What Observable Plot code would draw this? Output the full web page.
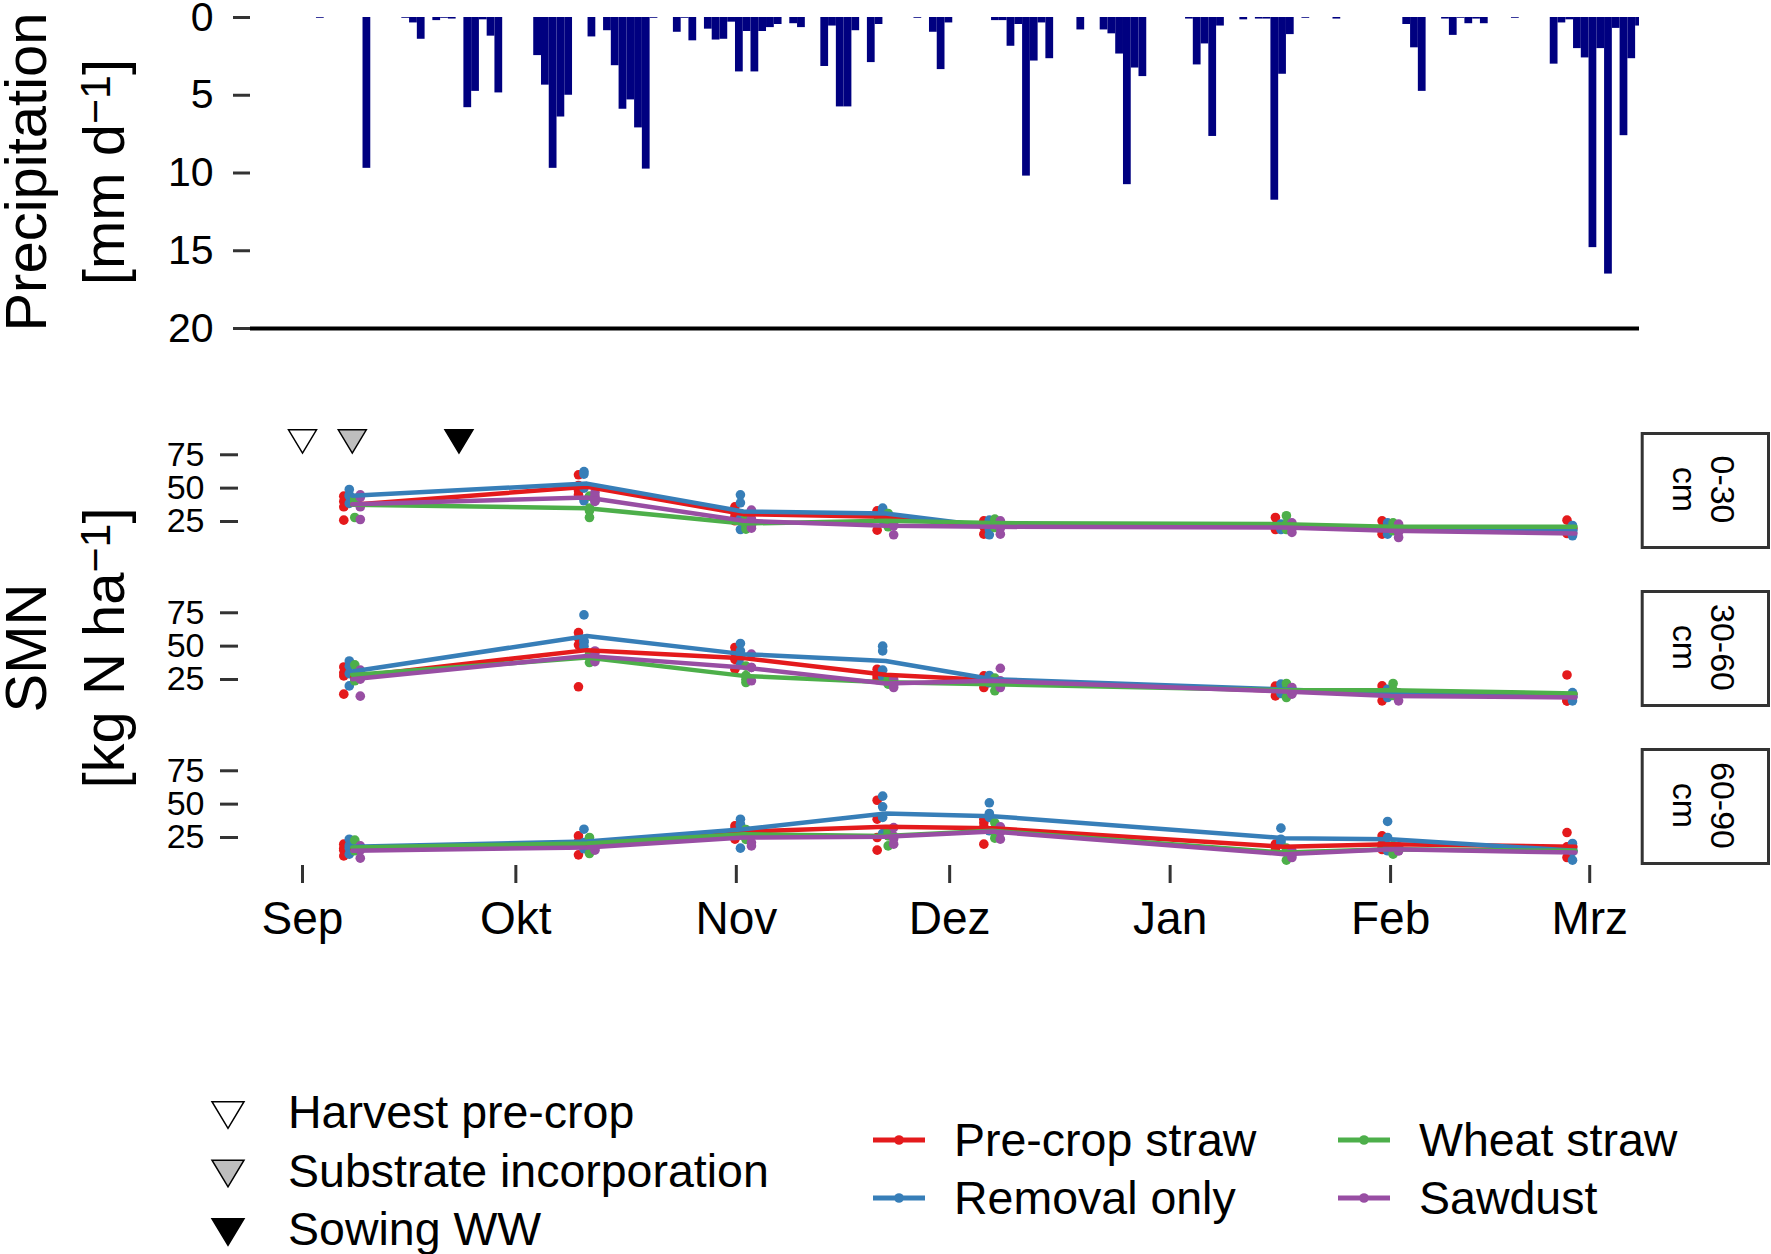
<!DOCTYPE html>
<html>
<head>
<meta charset="utf-8">
<script src="https://cdn.jsdelivr.net/npm/d3@7"></script>
<script src="https://cdn.jsdelivr.net/npm/@observablehq/plot@0.6"></script>
<style>
html, body { margin: 0; padding: 0; background: #fff; overflow: hidden; }
#root { position: relative; width: 1771px; height: 1254px; overflow: hidden; background: #fff;
  font-family: "Liberation Sans", Arial, Helvetica, sans-serif; }
#root > svg { position: absolute; left: 0; }
</style>
</head>
<body>
<div id="root"></div>
<script>
// ---------------- DATA ----------------
// Daily precipitation [mm d-1], one value per day starting at precipStartDate
const precipStartDate = "2018-09-01";
const precipMM = [
  0,0,0,0,0,0,0,0,0,0.05,
  0,0,0,0,0,9.7,0,0,0,0,
  0.05,0.35,1.4,0,0.2,0.05,0.1,0,5.8,4.75,
  0.15,1.2,4.85,0,0,0,0,2.45,4.35,9.7,
  6.4,5.0,0,0,1.25,0,0.85,3.1,5.9,5.3,
  7.1,9.75,0.05,0,0,0.95,0.05,1.5,0,0.75,
  1.45,1.4,0.3,3.5,0.9,3.5,0.9,0.65,0.45,0,
  0.4,0.65,0,0,3.15,0.55,5.75,5.75,0.85,0,
  2.9,0.45,0,0,0,0,0.05,0,0.95,3.35,
  0.35,0,0,0,0,0,0.2,0.2,1.85,0.45,
  10.2,2.8,0.35,2.65,0,0,0,0.8,0,0,
  0.8,1.05,2.35,10.75,3.25,3.8,0,0,0,0,
  0,0.1,3.05,1.7,7.65,0.55,0,0,0.15,0,
  0.1,0.1,11.75,3.65,1.1,0,0.05,0,0,0,
  0.1,0,0,0,0,0,0,0,0,0.45,
  1.95,4.75,0,0,0.1,1.15,0.05,0.4,0.1,0.4,
  0,0,0,0.05,0,0,0,0,3.0,0.35,
  0.15,2.0,2.6,14.8,2.0,16.5,0.7,7.6,2.65,0.55
];
const precipTicks = [0, 5, 10, 15, 20];

const monthTickDates = ["2018-09-01","2018-10-01","2018-11-01","2018-12-01","2019-01-01","2019-02-01","2019-03-01"];
const monthTickLabels = ["Sep","Okt","Nov","Dez","Jan","Feb","Mrz"];
const smnTicks = [25, 50, 75];

const depths = ["0-30", "30-60", "60-90"];
const treatments = ["Pre-crop straw", "Removal only", "Wheat straw", "Sawdust"];
const treatmentColors = ["#E41A1C", "#377EB8", "#4DAF4A", "#984EA3"];
const samplingDates = ["2018-09-08","2018-10-11","2018-11-02","2018-11-22","2018-12-07","2019-01-17","2019-02-01","2019-02-27"];

// Treatment means (rows: treatments, columns: sampling dates)
const smnMean0to30 = [
  [37.5, 51, 30.5, 28.5, 21, 22.5, 19.3, 19.8],
  [44.2, 53.4, 32.5, 31, 21, 21, 19.3, 18.5],
  [37.5, 35, 23.5, 25.5, 23.8, 23, 21, 21],
  [38, 43, 25.5, 21.8, 21, 20.5, 18, 16]
];
const smnMean30to60 = [
  [27, 47, 41, 28.5, 24.5, 16.5, 14.5, 14],
  [31, 57.6, 44, 38.9, 25.2, 17.5, 14.5, 12.5],
  [28.4, 41.4, 27.7, 23, 21.5, 17, 17, 14.5],
  [25.2, 42.7, 34, 22, 24, 16, 12.7, 11.5]
];
const smnMean60to90 = [
  [16.2, 20, 29.4, 33, 32, 18, 20, 18],
  [18, 22, 31.2, 43, 41, 24.5, 23.7, 15],
  [17.5, 20.5, 27.4, 26.2, 30, 13.7, 16.2, 15],
  [15, 17.5, 25, 25.5, 29.4, 12.5, 16.2, 13.7]
];

// Replicate values (rows: treatments, then sampling dates)
const smnPoints0to30 = [
  [[44,40,36,26],[60,52,48,45],[36,32,29,25.5],[33,31.8,30,18.5],[25.5,23,21,15.5],[28,22,21,19],[25.5,19,18,15.5],[26,19,18,16]],
  [[49,45,44,38.5],[62.4,60.5,50,40.5],[45,39,27,19],[35,33,30,26],[26,24,19,15],[23,22,20,19],[24,20,18,15.5],[22,20.5,17,14.3]],
  [[42,40,40,28],[44,35,33,28],[28,25,22,19.3],[31,26,24,21],[26.8,25,23,20.5],[29.3,23,21,19],[24,22,20,18],[]],
  [[45,43,36,26.5],[46.7,44,40.5,40],[33.5,27,22,20],[26,24,21.8,15],[25.5,23,20,15.5],[24,21,20,16.8],[23,19,17,13],[]]
];
const smnPoints30to60 = [
  [[34.4,30,27.7,14],[60.1,56,51,19.5],[49,45,40,32.7],[32.7,29,27,25],[27.7,26,25,19],[20,16.5,17,12.7],[20.2,15,14,9],[28.4,11,9,9]],
  [[38.9,35,29.4,20.2],[73.4,54,53,50],[52,46.4,42,36],[50,46.4,32,27],[28,26.4,24,22.5],[21.5,18,16,14.5],[17.7,15,14,11.5],[15.2,14,12,9]],
  [[36,28,26,24],[44,42,42,37.7],[35,28,25,22.7],[25,23,22.5,21.5],[26,22,21.5,16.5],[22,18,16.5,11.5],[22,17,16,13],[]],
  [[32,31,25.2,12.5],[46.4,45,41,38.4],[44,34,34,24],[25,23,21,19],[33.4,24,20,19],[19,16,15,14],[15,14,13,9],[]]
];
const smnPoints60to90 = [
  [[20,17,15.5,11.2],[26.2,22,20,12],[33.7,31,29,23.7],[52.9,38.7,25,15.5],[38.7,36,33,20],[20,18.7,18,15.5],[26.2,20,18,16],[28.7,18,15,10]],
  [[23.7,19,17,12.5],[31.2,21.2,19,16.5],[38.7,35,34,17],[56,48,40,28],[51,43,40,30],[32,23.7,22,20.3],[37,25,18,15],[20.5,17,14.5,8]],
  [[23,16.2,16,15],[25,23,21.2,13],[31,28,27,23.6],[30,28,26.2,18.7],[36,31,28.5,24.5],[17,15,14.7,8],[19,17,16.3,12.5],[]],
  [[18.7,16,15.5,9.5],[19,18,17.5,15.5],[29,28,21.2,18.7],[32.4,26,24,20],[33,32,29,23.7],[15,13,12,10],[18,17,15,15],[]]
];

// Management events shown as triangles in the top panel
const eventLabels = ["Harvest pre-crop", "Substrate incorporation", "Sowing WW"];
const eventDates = ["2018-09-01", "2018-09-08", "2018-09-23"];
const eventFills = ["#FFFFFF", "#BEBEBE", "#000000"];
const eventLevel = 85;

// ---------------- HELPERS ----------------
const FONT = '"Liberation Sans", Arial, Helvetica, sans-serif';
const parse = d3.utcParse("%Y-%m-%d");
const root = document.getElementById("root");
const W = 1771;

const triangleDown = {
  draw(context, size) {
    const r = Math.sqrt(size / Math.PI);
    const h = r * 0.83;
    context.moveTo(-r, -h);
    context.lineTo(r, -h);
    context.lineTo(0, h);
    context.closePath();
  }
};

function place(svg, top) {
  svg.style.position = "absolute";
  svg.style.left = "0px";
  svg.style.top = top + "px";
  root.appendChild(svg);
}

const baseStyle = { fontFamily: FONT, background: "transparent", overflow: "visible", maxWidth: "none", color: "black" };

// ---------------- PRECIPITATION ----------------
const precipStart = parse(precipStartDate);
const precipRows = precipMM
  .map((mm, i) => ({ date: d3.utcDay.offset(precipStart, i), mm }))
  .filter(d => d.mm > 0);

const precipPlot = Plot.plot({
  width: W, height: 348,
  marginLeft: 250, marginRight: 132, marginTop: 17, marginBottom: 20,
  style: baseStyle,
  x: { type: "utc", domain: [precipStart, d3.utcDay.offset(precipStart, precipMM.length - 1)], axis: null },
  y: { domain: [0, 20], reverse: true, axis: null },
  marks: [
    Plot.rect(precipRows, {
      x1: d => d3.utcHour.offset(d.date, -12),
      x2: d => d3.utcHour.offset(d.date, 12),
      y1: 0, y2: "mm", fill: "#000080", clip: true
    }),
    Plot.ruleY([20], { stroke: "black", strokeWidth: 4 }),
    Plot.axisY(precipTicks, { anchor: "left", tickSize: 17, tickPadding: 20, fontSize: 41,
      stroke: "#333", strokeWidth: 3, fill: "black", label: null })
  ]
});
place(precipPlot, 0);

// ---------------- SMN PANELS ----------------
const smnMeans = [smnMean0to30, smnMean30to60, smnMean60to90];
const smnPoints = [smnPoints0to30, smnPoints30to60, smnPoints60to90];
const dodgePx = [-8.5, -3, 2.5, 8];
const panelTops = [432, 590, 748];
const panelH = 117;
const smnXDomain = [parse("2018-08-23"), parse("2019-03-08")];
const monthDates = monthTickDates.map(parse);
const monthLabelByTime = new Map(monthDates.map((d, i) => [+d, monthTickLabels[i]]));

depths.forEach((depth, di) => {
  const isFirst = di === 0, isLast = di === depths.length - 1;
  const mt = 20, mb = isLast ? 80 : 20;
  const marks = [
    Plot.axisY(smnTicks, { anchor: "left", tickSize: 18, tickPadding: 16, fontSize: 34,
      stroke: "#333", strokeWidth: 3, fill: "black", label: null })
  ];
  if (isLast) {
    marks.push(Plot.axisX(monthDates, { anchor: "bottom", tickSize: 18, tickPadding: 18, fontSize: 46,
      stroke: "#333", strokeWidth: 3, fill: "black", label: null,
      tickFormat: d => monthLabelByTime.get(+d) }));
  }
  treatments.forEach((t, ti) => {
    const rows = [];
    samplingDates.forEach((s, si) => {
      smnPoints[di][ti][si].forEach(v => rows.push({ date: parse(s), value: v }));
    });
    marks.push(Plot.dot(rows, { x: "date", y: "value", r: 4.8, fill: treatmentColors[ti], dx: dodgePx[ti] }));
  });
  treatments.forEach((t, ti) => {
    const rows = samplingDates.map((s, si) => ({ date: parse(s), value: smnMeans[di][ti][si] }));
    marks.push(Plot.line(rows, { x: "date", y: "value", stroke: treatmentColors[ti], strokeWidth: 4.5 }));
  });
  if (isFirst) {
    eventDates.forEach((e, ei) => {
      marks.push(Plot.dot([{ date: parse(e), level: eventLevel }], {
        x: "date", y: "level", symbol: triangleDown, r: 14,
        fill: eventFills[ei], stroke: "black", strokeWidth: 1.5
      }));
    });
  }
  const p = Plot.plot({
    width: W, height: mt + panelH + mb,
    marginLeft: 238, marginRight: 132, marginTop: mt, marginBottom: mb,
    style: baseStyle,
    x: { type: "utc", domain: smnXDomain, axis: null },
    y: { domain: [4, 91.7], axis: null },
    marks
  });
  place(p, panelTops[di] - mt);
});

// ---------------- OVERLAY: titles, strips, legend ----------------
const ov = d3.create("svg")
  .attr("width", W).attr("height", 1254)
  .style("position", "absolute").style("left", "0px").style("top", "0px")
  .style("pointer-events", "none")
  .attr("font-family", FONT);

function axisTitle(line1, line2main, line2sup, cy) {
  ov.append("text").attr("transform", `translate(46,${cy}) rotate(-90)`)
    .attr("text-anchor", "middle").attr("font-size", 58).attr("fill", "black").text(line1);
  const t = ov.append("text").attr("transform", `translate(124,${cy}) rotate(-90)`)
    .attr("text-anchor", "middle").attr("font-size", 58).attr("fill", "black");
  t.append("tspan").text(line2main);
  t.append("tspan").attr("font-size", 43).attr("dy", -14).text(line2sup);
  t.append("tspan").attr("dy", 14).text("]");
}
axisTitle("Precipitation", "[mm d", "\u22121", 172);
axisTitle("SMN", "[kg N ha", "\u22121", 648);

// Facet strips
depths.forEach((depth, di) => {
  const top = panelTops[di];
  ov.append("rect").attr("x", 1642.2).attr("y", top + 1.5).attr("width", 126.3).attr("height", panelH - 3)
    .attr("fill", "white").attr("stroke", "#333").attr("stroke-width", 3);
  const cy = top + panelH / 2 - 1;
  ov.append("text").attr("transform", `translate(1711,${cy}) rotate(90)`)
    .attr("text-anchor", "middle").attr("font-size", 34).attr("fill", "black").text(depth);
  ov.append("text").attr("transform", `translate(1672.5,${cy}) rotate(90)`)
    .attr("text-anchor", "middle").attr("font-size", 34).attr("fill", "black").text("cm");
});

// Legend: management events
const legEventTop = 1115, legRowStep = 58.5;
eventLabels.forEach((lab, i) => {
  const cy = legEventTop + i * legRowStep;
  const p = d3.path();
  triangleDown.draw(p, 16 * 16 * Math.PI);
  ov.append("path").attr("d", p.toString()).attr("transform", `translate(228,${cy})`)
    .attr("fill", eventFills[i]).attr("stroke", "black").attr("stroke-width", 1.5);
  ov.append("text").attr("x", 288).attr("y", cy + 13).attr("font-size", 46.5).attr("fill", "black").text(lab);
});

// Legend: treatments (2 columns x 2 rows)
const legCols = [873, 1338], legRows = [1140, 1198];
treatments.forEach((t, i) => {
  const col = Math.floor(i / 2), row = i % 2;
  const x0 = legCols[col], cy = legRows[row];
  ov.append("line").attr("x1", x0).attr("x2", x0 + 52).attr("y1", cy).attr("y2", cy)
    .attr("stroke", treatmentColors[i]).attr("stroke-width", 5);
  ov.append("circle").attr("cx", x0 + 26).attr("cy", cy).attr("r", 4.8).attr("fill", treatmentColors[i]);
  ov.append("text").attr("x", x0 + 81).attr("y", cy + 16).attr("font-size", 46.5).attr("fill", "black").text(t);
});

root.appendChild(ov.node());
</script>
</body>
</html>
